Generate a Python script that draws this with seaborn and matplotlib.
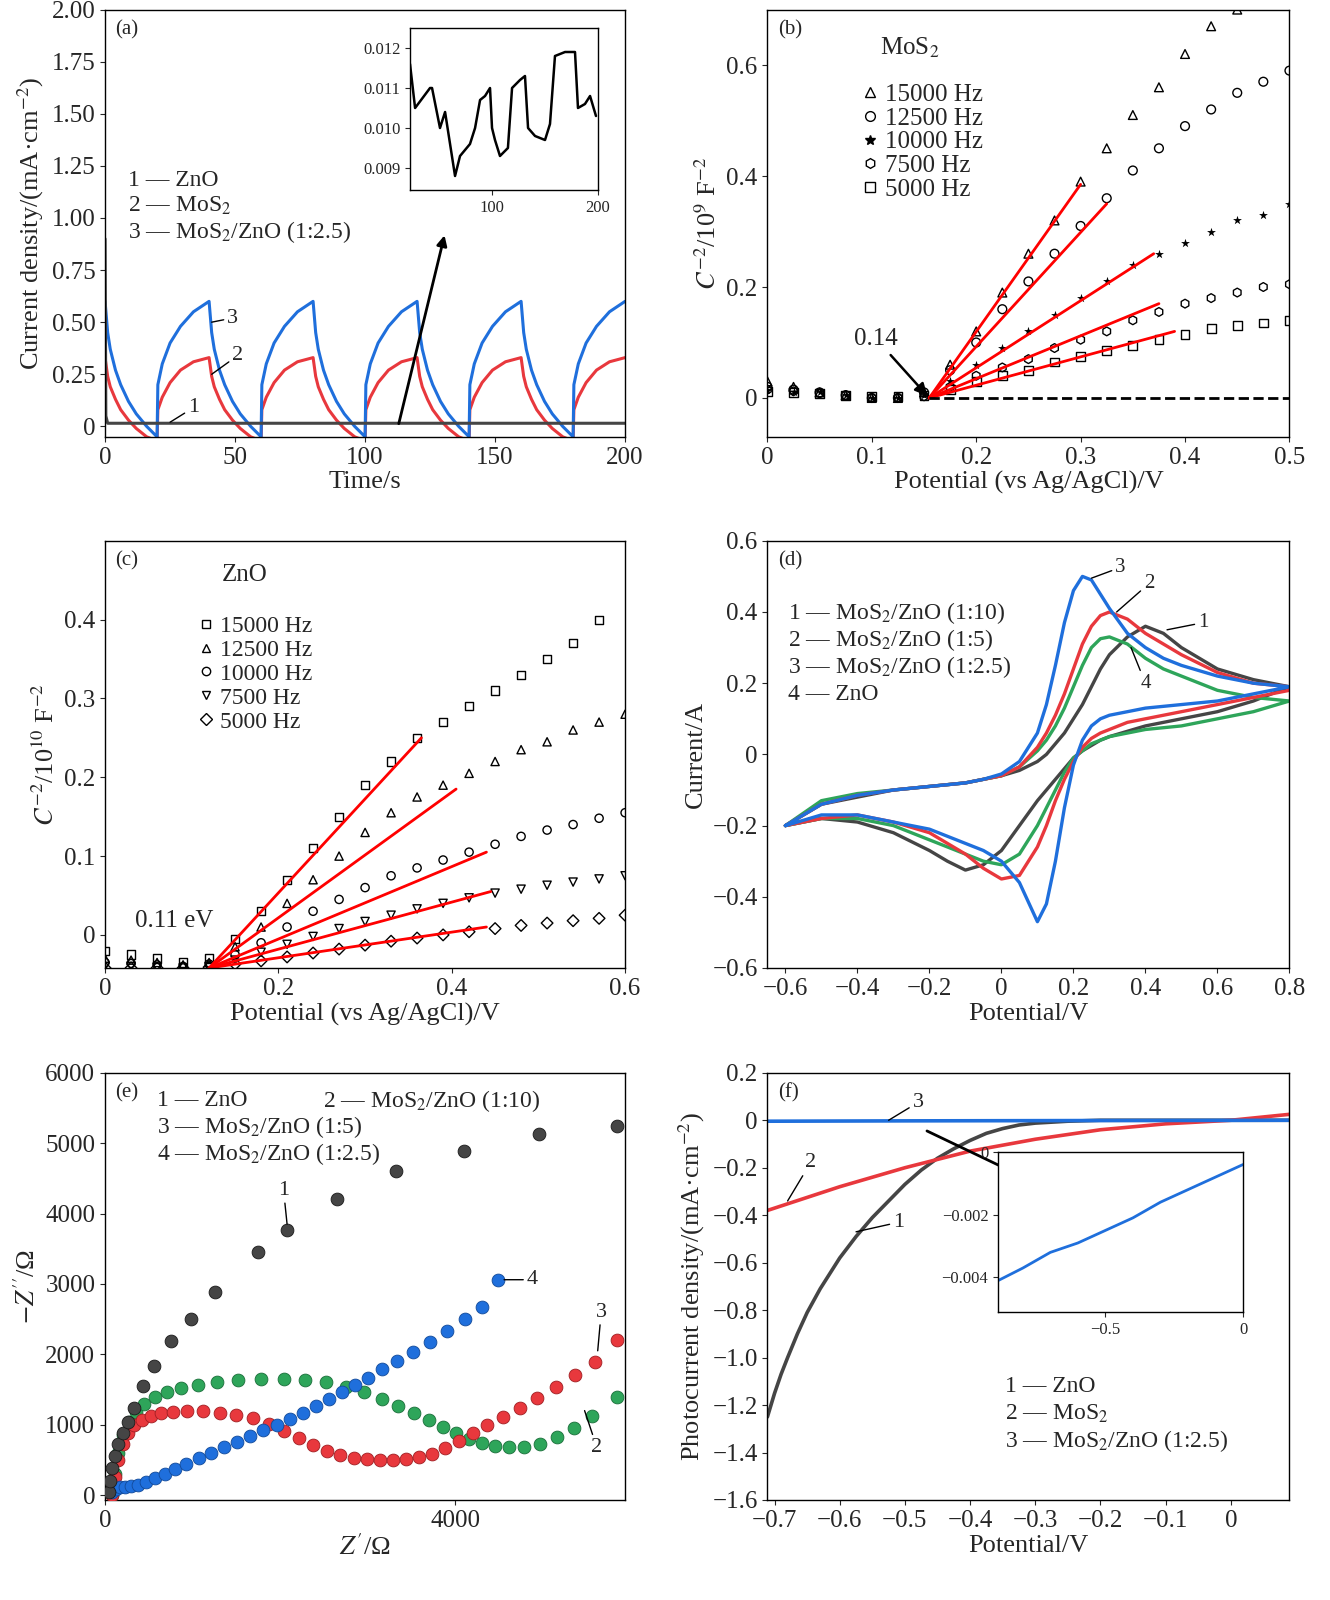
import numpy as np
import pandas as pd
import matplotlib
matplotlib.use("Agg")
import matplotlib.pyplot as plt
from matplotlib.lines import Line2D
import seaborn as sns

sns.set_style("ticks")
plt.rcParams['font.family'] = ['Liberation Serif', 'DejaVu Serif']
plt.rcParams['mathtext.fontset'] = 'stix'
plt.rcParams['font.size'] = 15

BLUE = '#1f6fdc'; RED = '#e8383d'; GRAY = '#454545'; GREEN = '#2ea55a'

# ---------------- (a) data ----------------
off_t = [0, 1, 2, 4, 6, 9, 12, 16, 20]
blue_off = [0.6, 0.45, 0.37, 0.27, 0.2, 0.12, 0.06, 0.0, -0.05]
red_off = [0.33, 0.24, 0.19, 0.13, 0.08, 0.03, -0.01, -0.05, -0.07]
on_t = [0, 0.3, 2, 5, 9, 14, 20]
blue_on = [-0.05, 0.2, 0.3, 0.4, 0.48, 0.55, 0.6]
red_on = [-0.07, 0.08, 0.14, 0.21, 0.27, 0.31, 0.33]
cycle_starts = [0, 40, 80, 120, 160]
gray_t = [0, 0.3, 1, 200]
gray_j = [0.9, 0.05, 0.015, 0.015]
inset_t = [22.6, 27.4, 41.5, 43.4, 50.9, 55.7, 60.4, 65.1, 69.8, 79.2, 84, 88.7, 93.4, 98.1,
           100, 102.8, 107.5, 115, 118.9, 126.4, 131.1, 134, 140.6, 150, 154.7, 159.4, 168.9,
           178.3, 181.1, 187.7, 192.5, 198.1]
inset_j = [0.0116, 0.0105, 0.0110, 0.0110, 0.0100, 0.0104, 0.0096, 0.0088, 0.0093, 0.0096,
           0.0100, 0.0107, 0.0108, 0.0110, 0.0100, 0.0097, 0.0093, 0.0095, 0.0110, 0.0112,
           0.0113, 0.0100, 0.0098, 0.0097, 0.0101, 0.0118, 0.0119, 0.0119, 0.0105, 0.0106,
           0.0108, 0.0103]

# ---------------- (b) data ----------------
b_freqs = ['15000 Hz', '12500 Hz', '10000 Hz', '7500 Hz', '5000 Hz']
b_markers = ['^', 'o', '*', 'h', 's']
b_x = [0, 0.025, 0.05, 0.075, 0.1, 0.125, 0.15, 0.175, 0.2, 0.225, 0.25, 0.275, 0.3, 0.325,
       0.35, 0.375, 0.4, 0.425, 0.45, 0.475, 0.5]
b_y = {
    '15000 Hz': [0.03, 0.02, 0.01, 0.005, 0.0, 0.0, 0.01, 0.06, 0.12, 0.19, 0.26, 0.32, 0.39, 0.45,
                 0.51, 0.56, 0.62, 0.67, 0.70, None, None],
    '12500 Hz': [0.02, 0.015, 0.01, 0.005, 0.0, 0.0, 0.01, 0.05, 0.1, 0.16, 0.21, 0.26, 0.31, 0.36,
                 0.41, 0.45, 0.49, 0.52, 0.55, 0.57, 0.59],
    '10000 Hz': [0.015, 0.01, 0.01, 0.005, 0.0, 0.0, 0.005, 0.03, 0.06, 0.09, 0.12, 0.15, 0.18, 0.21,
                 0.24, 0.26, 0.28, 0.30, 0.32, 0.33, 0.35],
    '7500 Hz': [0.015, 0.012, 0.008, 0.005, 0.0, 0.0, 0.003, 0.02, 0.04, 0.055, 0.07, 0.09, 0.105, 0.12,
                0.14, 0.155, 0.17, 0.18, 0.19, 0.2, 0.205],
    '5000 Hz': [0.012, 0.01, 0.008, 0.005, 0.002, 0.002, 0.004, 0.015, 0.03, 0.04, 0.05, 0.065, 0.075,
                0.085, 0.095, 0.105, 0.115, 0.125, 0.13, 0.135, 0.14],
}
b_fit_x0 = 0.155
b_fit_end_x = [0.3, 0.325, 0.37, 0.375, 0.39]
b_fit_end_y = [0.385, 0.35, 0.26, 0.17, 0.12]

# ---------------- (c) data ----------------
c_freqs = ['15000 Hz', '12500 Hz', '10000 Hz', '7500 Hz', '5000 Hz']
c_markers = ['s', '^', 'o', 'v', 'D']
c_x = [0, 0.03, 0.06, 0.09, 0.12, 0.15, 0.18, 0.21, 0.24, 0.27, 0.3, 0.33, 0.36, 0.39, 0.42,
       0.45, 0.48, 0.51, 0.54, 0.57, 0.6]
c_y = {
    '15000 Hz': [-0.02, -0.025, -0.03, -0.035, -0.03, -0.005, 0.03, 0.07, 0.11, 0.15, 0.19, 0.22,
                 0.25, 0.27, 0.29, 0.31, 0.33, 0.35, 0.37, 0.40, None],
    '12500 Hz': [-0.03, -0.032, -0.035, -0.038, -0.035, -0.015, 0.01, 0.04, 0.07, 0.10, 0.13, 0.155,
                 0.175, 0.19, 0.205, 0.22, 0.235, 0.245, 0.26, 0.27, 0.28],
    '10000 Hz': [-0.035, -0.036, -0.038, -0.04, -0.037, -0.025, -0.01, 0.01, 0.03, 0.045, 0.06, 0.075,
                 0.085, 0.095, 0.105, 0.115, 0.125, 0.133, 0.14, 0.148, 0.155],
    '7500 Hz': [-0.04, -0.04, -0.041, -0.042, -0.04, -0.032, -0.022, -0.012, -0.002, 0.008, 0.017,
                0.025, 0.033, 0.04, 0.047, 0.053, 0.058, 0.063, 0.067, 0.071, 0.075],
    '5000 Hz': [-0.042, -0.042, -0.042, -0.042, -0.041, -0.037, -0.033, -0.028, -0.023, -0.018, -0.013,
                -0.008, -0.004, 0.0, 0.004, 0.008, 0.012, 0.015, 0.018, 0.021, 0.025],
}
c_fit_x0 = 0.12
c_fit_y0 = -0.042
c_fit_end_x = [0.365, 0.405, 0.44, 0.445, 0.44]
c_fit_end_y = [0.25, 0.185, 0.105, 0.055, 0.01]

# ---------------- (d) data ----------------
d_x = [-0.6, -0.5, -0.4, -0.3, -0.2, -0.15, -0.1, -0.05, 0, 0.05, 0.1, 0.125, 0.15, 0.175, 0.2,
       0.225, 0.25, 0.275, 0.3, 0.35, 0.4, 0.45, 0.5, 0.6, 0.7, 0.8]
d_fwd = {
    '1': [-0.2, -0.14, -0.12, -0.1, -0.09, -0.085, -0.08, -0.07, -0.06, -0.045, -0.02, 0.0, 0.03, 0.06,
          0.1, 0.14, 0.19, 0.24, 0.28, 0.33, 0.36, 0.34, 0.3, 0.24, 0.21, 0.19],
    '2': [-0.2, -0.14, -0.115, -0.1, -0.09, -0.085, -0.08, -0.07, -0.06, -0.035, 0.02, 0.06, 0.11, 0.17,
          0.24, 0.31, 0.36, 0.39, 0.4, 0.38, 0.34, 0.31, 0.28, 0.23, 0.2, 0.19],
    '3': [-0.2, -0.14, -0.115, -0.1, -0.09, -0.085, -0.08, -0.07, -0.055, -0.02, 0.06, 0.14, 0.25, 0.37,
          0.46, 0.5, 0.49, 0.45, 0.41, 0.34, 0.3, 0.27, 0.25, 0.22, 0.2, 0.19],
    '4': [-0.2, -0.13, -0.11, -0.1, -0.09, -0.085, -0.08, -0.07, -0.06, -0.035, 0.01, 0.04, 0.08, 0.13,
          0.19, 0.25, 0.3, 0.325, 0.33, 0.31, 0.27, 0.24, 0.22, 0.18, 0.16, 0.15],
}
d_rev = {
    '1': [-0.2, -0.18, -0.19, -0.22, -0.27, -0.3, -0.325, -0.31, -0.27, -0.2, -0.13, -0.1, -0.07, -0.04,
          -0.01, 0.01, 0.025, 0.04, 0.05, 0.065, 0.08, 0.09, 0.1, 0.12, 0.15, 0.19],
    '2': [-0.2, -0.18, -0.17, -0.19, -0.22, -0.25, -0.28, -0.32, -0.35, -0.34, -0.26, -0.2, -0.13, -0.07,
          -0.02, 0.02, 0.045, 0.06, 0.07, 0.09, 0.1, 0.11, 0.12, 0.14, 0.16, 0.18],
    '3': [-0.2, -0.17, -0.17, -0.19, -0.21, -0.23, -0.25, -0.27, -0.3, -0.36, -0.47, -0.42, -0.3, -0.15,
          -0.03, 0.04, 0.08, 0.1, 0.11, 0.12, 0.13, 0.135, 0.14, 0.15, 0.17, 0.19],
    '4': [-0.2, -0.18, -0.18, -0.2, -0.24, -0.26, -0.28, -0.3, -0.31, -0.28, -0.2, -0.15, -0.1, -0.05,
          -0.01, 0.01, 0.03, 0.04, 0.05, 0.06, 0.07, 0.075, 0.08, 0.1, 0.12, 0.15],
}
d_colors = {'1': GRAY, '2': RED, '3': BLUE, '4': GREEN}

# ---------------- (e) data ----------------
e1_x = [40, 60, 80, 110, 150, 200, 263, 330, 434, 560, 754, 980, 1260, 1750, 2080, 2650, 3330, 4100, 4960, 5850]
e1_y = [50, 200, 380, 560, 720, 880, 1040, 1240, 1550, 1835, 2190, 2500, 2890, 3450, 3770, 4210, 4610, 4890, 5130, 5250]
e4_x = [80, 120, 170, 230, 300, 380, 470, 570, 680, 800, 930, 1070, 1210, 1360, 1510, 1660, 1810, 1960,
        2110, 2260, 2410, 2560, 2710, 2860, 3010, 3170, 3340, 3520, 3710, 3910, 4110, 4310, 4490]
e4_y = [40, 80, 110, 120, 130, 150, 190, 240, 300, 370, 440, 520, 600, 680, 760, 840, 920, 1000,
        1080, 1170, 1260, 1360, 1460, 1560, 1670, 1790, 1910, 2040, 2180, 2330, 2500, 2670, 3060]
e3_x = [80, 110, 150, 200, 260, 330, 420, 520, 640, 780, 940, 1120, 1310, 1500, 1690, 1870, 2050, 2220,
        2380, 2540, 2690, 2840, 2990, 3140, 3290, 3440, 3590, 3740, 3890, 4040, 4200, 4370, 4550, 4740,
        4940, 5150, 5370, 5600, 5850]
e3_y = [0, 250, 500, 720, 880, 990, 1070, 1120, 1160, 1180, 1190, 1190, 1170, 1140, 1090, 1010, 910, 810,
        710, 630, 570, 530, 510, 500, 500, 510, 540, 590, 670, 770, 880, 990, 1110, 1240, 1380,
        1530, 1700, 1890, 2200]
e2_x = [80, 110, 150, 200, 270, 350, 450, 570, 710, 870, 1060, 1280, 1520, 1780, 2040, 2290, 2530, 2750,
        2960, 3160, 3350, 3530, 3700, 3860, 4010, 4160, 4310, 4460, 4620, 4790, 4970, 5160, 5360,
        5570, 5850]
e2_y = [0, 300, 600, 850, 1040, 1180, 1300, 1390, 1460, 1520, 1570, 1610, 1640, 1650, 1650, 1640, 1600, 1540,
        1460, 1370, 1270, 1170, 1070, 970, 880, 800, 740, 700, 680, 680, 720, 820, 950, 1120, 1400]

# ---------------- (f) data ----------------
f1_x = [-0.711, -0.7, -0.69, -0.68, -0.665, -0.65, -0.63, -0.6, -0.575, -0.55, -0.525, -0.5, -0.475,
        -0.45, -0.425, -0.4, -0.375, -0.35, -0.325, -0.3, -0.25, -0.2, 0, 0.09]
f1_y = [-1.25, -1.15, -1.07, -1.0, -0.9, -0.81, -0.71, -0.58, -0.49, -0.41, -0.34, -0.27, -0.21,
        -0.16, -0.12, -0.085, -0.055, -0.035, -0.02, -0.012, -0.004, 0, 0, 0]
f2_x = [-0.711, -0.6, -0.5, -0.4, -0.3, -0.2, -0.1, 0, 0.09]
f2_y = [-0.38, -0.28, -0.2, -0.13, -0.08, -0.04, -0.015, 0.0, 0.025]
f3_x = [-0.711, -0.5, -0.2, 0, 0.09]
f3_y = [-0.004, -0.0025, -0.0012, -0.0004, 0.0]
fi_x = [-0.89, -0.8, -0.7, -0.6, -0.5, -0.4, -0.3, -0.2, -0.1, -0.05, 0]
fi_y = [-0.0041, -0.0037, -0.0032, -0.0029, -0.0025, -0.0021, -0.0016, -0.0012, -0.0008, -0.0006, -0.0004]

fig = plt.figure(figsize=(13.3, 16), dpi=100)
L1, L2, W, H = 0.079, 0.577, 0.391, 0.267
axa = fig.add_axes([L1, 0.727, W, H])
axb = fig.add_axes([L2, 0.727, 0.3925, H])
axc = fig.add_axes([L1, 0.395, W, H])
axd = fig.add_axes([L2, 0.395, 0.3925, H])
axe = fig.add_axes([L1, 0.0625, W, H])
axf = fig.add_axes([L2, 0.0625, 0.3925, H])

def line(ax, x, y, c, lw=2.2):
    sns.lineplot(x=x, y=y, ax=ax, color=c, lw=lw, sort=False, estimator=None)

LP = dict(arrowstyle='-', color='k', lw=1, shrinkA=0, shrinkB=0)

def lab(ax, s, xy, xyt, fs=16):
    ax.annotate(s, xy=xy, xytext=xyt, fontsize=fs, arrowprops=LP, ha='center', va='center')

# ---- (a)
ta, ba, ra = [], [], []
for s in cycle_starts:
    ta += [s + t for t in off_t] + [s + 20 + t for t in on_t]
    ba += blue_off + blue_on
    ra += red_off + red_on
line(axa, ta, ra, RED)
line(axa, ta, ba, BLUE)
line(axa, gray_t, gray_j, GRAY)
axa.set_xlim(0, 200); axa.set_ylim(-0.05, 2.0)
axa.set_xticks([0, 50, 100, 150, 200])
axa.set_yticks([0, 0.25, 0.5, 0.75, 1.0, 1.25, 1.5, 1.75, 2.0])
axa.set_yticklabels(['0', '0.25', '0.50', '0.75', '1.00', '1.25', '1.50', '1.75', '2.00'])
axa.set_xlabel('Time/s', labelpad=2)
axa.set_ylabel('Current density/(mA·cm$^{-2}$)')
axa.text(0.02, 0.975, '(a)', transform=axa.transAxes, va='top')
for i, s in enumerate(['1 — ZnO', '2 — MoS$_2$', '3 — MoS$_2$/ZnO (1:2.5)']):
    axa.text(0.045, 0.6 - i * 0.06, s, transform=axa.transAxes, va='center', fontsize=17)
axa.annotate('', xy=(130.8, 0.93), xytext=(112.7, 0.0),
             arrowprops=dict(arrowstyle='-|>', color='k', lw=2))
lab(axa, '3', (41, 0.5), (49, 0.52))
lab(axa, '2', (41, 0.25), (51, 0.34))
lab(axa, '1', (25, 0.02), (34, 0.09))
ia = fig.add_axes([410 / 1330, 1 - 190 / 1600, 188 / 1330, 162 / 1600])
line(ia, inset_t, inset_j, 'k', lw=1.8)
ia.set_xlim(22.6, 200); ia.set_ylim(0.00845, 0.0125)
ia.set_xticks([100, 200]); ia.set_yticks([0.009, 0.010, 0.011, 0.012])
ia.set_yticklabels(['0.009', '0.010', '0.011', '0.012'])
ia.tick_params(labelsize=12)

# ---- (b)
handles = []
for i, f in enumerate(b_freqs):
    xs = [x for x, y in zip(b_x, b_y[f]) if y is not None]
    ys = [y for y in b_y[f] if y is not None]
    m = b_markers[i]
    if m == '*':
        sns.scatterplot(x=xs, y=ys, ax=axb, marker=m, color='k', s=45, linewidth=0)
    else:
        sns.scatterplot(x=xs, y=ys, ax=axb, marker=m, facecolors='none', edgecolor='k', s=40, linewidth=1)
    handles.append(Line2D([], [], ls='none', marker=m, mfc='k' if m == '*' else 'none', mec='k', ms=7))
for ex, ey in zip(b_fit_end_x, b_fit_end_y):
    line(axb, [b_fit_x0, ex], [0, ey], 'red', lw=2)
axb.plot([b_fit_x0, 0.5], [0, 0], ls='--', color='k', lw=2)
axb.set_xlim(0, 0.5); axb.set_ylim(-0.07, 0.7)
axb.set_xticks([0, 0.1, 0.2, 0.3, 0.4, 0.5]); axb.set_xticklabels(['0', '0.1', '0.2', '0.3', '0.4', '0.5'])
axb.set_yticks([0, 0.2, 0.4, 0.6]); axb.set_yticklabels(['0', '0.2', '0.4', '0.6'])
axb.set_xlabel('Potential (vs Ag/AgCl)/V', labelpad=2)
axb.set_ylabel('$C^{-2}$/10$^9$ F$^{-2}$')
axb.text(0.02, 0.975, '(b)', transform=axb.transAxes, va='top')
axb.text(0.215, 0.91, 'MoS$_2$', transform=axb.transAxes, va='center', fontsize=18)
axb.legend(handles, b_freqs, loc='upper left', bbox_to_anchor=(0.13, 0.88), frameon=False,
           fontsize=18, handletextpad=0.1, labelspacing=0.05, handlelength=1)
axb.annotate('0.14', xy=(0.155, 0.0), xytext=(0.083, 0.096), fontsize=18,
             arrowprops=dict(arrowstyle='-|>', color='k', lw=1.8))

# ---- (c)
handles = []
for i, f in enumerate(c_freqs):
    xs = [x for x, y in zip(c_x, c_y[f]) if y is not None]
    ys = [y for y in c_y[f] if y is not None]
    m = c_markers[i]
    sns.scatterplot(x=xs, y=ys, ax=axc, marker=m, facecolors='none', edgecolor='k', s=35, linewidth=1)
    handles.append(Line2D([], [], ls='none', marker=m, mfc='none', mec='k', ms=6))
for ex, ey in zip(c_fit_end_x, c_fit_end_y):
    line(axc, [c_fit_x0, ex], [c_fit_y0, ey], 'red', lw=2)
axc.set_xlim(0, 0.6); axc.set_ylim(-0.042, 0.5)
axc.set_xticks([0, 0.2, 0.4, 0.6]); axc.set_xticklabels(['0', '0.2', '0.4', '0.6'])
axc.set_yticks([0, 0.1, 0.2, 0.3, 0.4]); axc.set_yticklabels(['0', '0.1', '0.2', '0.3', '0.4'])
axc.set_xlabel('Potential (vs Ag/AgCl)/V', labelpad=2)
axc.set_ylabel('$C^{-2}$/10$^{10}$ F$^{-2}$')
axc.text(0.02, 0.975, '(c)', transform=axc.transAxes, va='top')
axc.text(0.225, 0.92, 'ZnO', transform=axc.transAxes, va='center', fontsize=18)
axc.legend(handles, c_freqs, loc='upper left', bbox_to_anchor=(0.13, 0.875), frameon=False,
           fontsize=17, handletextpad=0.1, labelspacing=0.1, handlelength=1)
axc.text(0.035, 0.01, '0.11 eV', fontsize=18)

# ---- (d)
for k in ['1', '4', '2', '3']:
    line(axd, d_x + d_x[::-1], d_fwd[k] + d_rev[k][::-1], d_colors[k], lw=2.4)
axd.set_xlim(-0.65, 0.8); axd.set_ylim(-0.6, 0.6)
axd.set_xticks([-0.6, -0.4, -0.2, 0, 0.2, 0.4, 0.6, 0.8])
axd.set_xticklabels(['−0.6', '−0.4', '−0.2', '0', '0.2', '0.4', '0.6', '0.8'])
axd.set_yticks([-0.6, -0.4, -0.2, 0, 0.2, 0.4, 0.6])
axd.set_yticklabels(['−0.6', '−0.4', '−0.2', '0', '0.2', '0.4', '0.6'])
axd.set_xlabel('Potential/V', labelpad=2)
axd.set_ylabel('Current/A')
axd.text(0.02, 0.975, '(d)', transform=axd.transAxes, va='top')
for i, s in enumerate(['1 — MoS$_2$/ZnO (1:10)', '2 — MoS$_2$/ZnO (1:5)', '3 — MoS$_2$/ZnO (1:2.5)', '4 — ZnO']):
    axd.text(0.04, 0.83 - i * 0.063, s, transform=axd.transAxes, va='center', fontsize=17)
lab(axd, '3', (0.25, 0.495), (0.33, 0.525), fs=15)
lab(axd, '2', (0.32, 0.4), (0.41, 0.48), fs=15)
lab(axd, '1', (0.46, 0.35), (0.56, 0.37), fs=15)
lab(axd, '4', (0.36, 0.3), (0.4, 0.2), fs=15)

# ---- (e)
for xs, ys, c, ec in [(e2_x, e2_y, GREEN, '#1a6e3a'), (e3_x, e3_y, RED, '#a01e22'),
                      (e4_x, e4_y, BLUE, '#124a99'), (e1_x, e1_y, GRAY, '#1a1a1a')]:
    sns.scatterplot(x=xs, y=ys, ax=axe, color=c, edgecolor=ec, s=85, linewidth=0.6, zorder=3)
axe.set_xlim(0, 5943); axe.set_ylim(-70, 6000)
axe.set_xticks([0, 4000]); axe.set_xticklabels(['0', '4000'])
axe.set_yticks([0, 1000, 2000, 3000, 4000, 5000, 6000])
axe.set_xlabel("$Z'$/Ω", labelpad=2)
axe.set_ylabel("$-Z''$/Ω")
axe.text(0.02, 0.975, '(e)', transform=axe.transAxes, va='top')
axe.text(0.1, 0.935, '1 — ZnO', transform=axe.transAxes, va='center', fontsize=17)
axe.text(0.42, 0.935, '2 — MoS$_2$/ZnO (1:10)', transform=axe.transAxes, va='center', fontsize=17)
axe.text(0.1, 0.873, '3 — MoS$_2$/ZnO (1:5)', transform=axe.transAxes, va='center', fontsize=17)
axe.text(0.1, 0.811, '4 — MoS$_2$/ZnO (1:2.5)', transform=axe.transAxes, va='center', fontsize=17)
lab(axe, '1', (2080, 3850), (2040, 4330))
lab(axe, '4', (4560, 3060), (4880, 3060))
lab(axe, '3', (5630, 2050), (5670, 2600))
lab(axe, '2', (5480, 1200), (5620, 680))

# ---- (f)
line(axf, f1_x, f1_y, GRAY, lw=2.6)
line(axf, f2_x, f2_y, RED, lw=2.6)
line(axf, f3_x, f3_y, BLUE, lw=2.6)
axf.set_xlim(-0.711, 0.09); axf.set_ylim(-1.6, 0.2)
axf.set_xticks([-0.7, -0.6, -0.5, -0.4, -0.3, -0.2, -0.1, 0])
axf.set_xticklabels(['−0.7', '−0.6', '−0.5', '−0.4', '−0.3', '−0.2', '−0.1', '0'])
axf.set_yticks([-1.6, -1.4, -1.2, -1.0, -0.8, -0.6, -0.4, -0.2, 0, 0.2])
axf.set_yticklabels(['−1.6', '−1.4', '−1.2', '−1.0', '−0.8', '−0.6', '−0.4', '−0.2', '0', '0.2'])
axf.set_xlabel('Potential/V', labelpad=2)
axf.set_ylabel('Photocurrent density/(mA·cm$^{-2}$)')
axf.text(0.02, 0.975, '(f)', transform=axf.transAxes, va='top')
for i, s in enumerate(['1 — ZnO', '2 — MoS$_2$', '3 — MoS$_2$/ZnO (1:2.5)']):
    axf.text(0.455, 0.265 - i * 0.064, s, transform=axf.transAxes, va='center', fontsize=17)
axf.annotate('', xy=(-0.31, -0.25), xytext=(-0.47, -0.04),
             arrowprops=dict(arrowstyle='-|>', color='k', lw=2))
lab(axf, '3', (-0.525, 0.0), (-0.48, 0.075))
lab(axf, '2', (-0.68, -0.34), (-0.645, -0.18))
lab(axf, '1', (-0.575, -0.47), (-0.51, -0.43))
fi = fig.add_axes([998 / 1330, 1 - 1312 / 1600, 245 / 1330, 160 / 1600])
line(fi, fi_x, fi_y, BLUE, lw=2)
fi.set_xlim(-0.89, 0); fi.set_ylim(-0.0051, 0)
fi.set_xticks([-0.5, 0]); fi.set_xticklabels(['−0.5', '0'])
fi.set_yticks([-0.004, -0.002, 0]); fi.set_yticklabels(['−0.004', '−0.002', '0'])
fi.tick_params(labelsize=12)

for ax in [axa, axb, axc, axd, axe, axf, ia, fi]:
    for sp in ax.spines.values():
        sp.set_visible(True); sp.set_color('k'); sp.set_linewidth(1)
    if ax not in (ia, fi):
        ax.tick_params(labelsize=18)
for ax in [axa, axb, axc, axd, axe, axf]:
    ax.xaxis.label.set_size(19); ax.yaxis.label.set_size(19)

fig.savefig('out.png', dpi=100)
